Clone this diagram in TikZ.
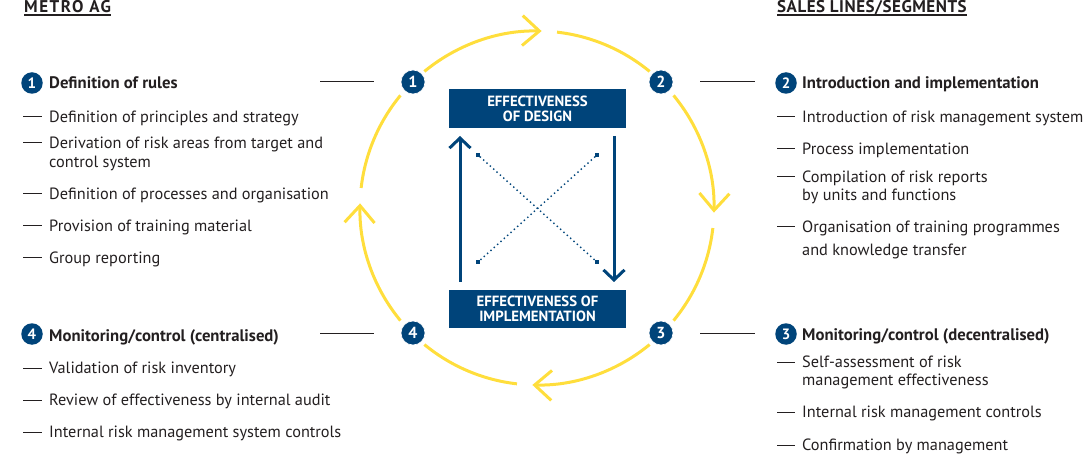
\documentclass[tikz,border=0pt]{standalone}
\usepackage{fontspec}
\setmainfont{PT Sans}
\usetikzlibrary{arrows.meta,calc}
\definecolor{navy}{RGB}{0,68,122}
\definecolor{ylw}{RGB}{255,222,60}
\definecolor{txt}{RGB}{35,31,32}
\tikzset{
  ring/.style={draw=ylw,line width=3pt},
  ringtip/.style={ring,-{Straight Barb[length=17pt,width=30pt]}},
  badge/.style={circle,fill=navy,draw=white,line width=0.6pt,inner sep=0pt,minimum size=24pt,text=white,font=\fontsize{16}{16}\selectfont\bfseries},
  sbadge/.style={circle,fill=navy,inner sep=0pt,minimum size=21.5pt,text=white,font=\fontsize{15}{15}\selectfont\bfseries},
  body/.style={inner sep=0pt,anchor=base west,text=txt,font=\fontsize{16.3}{18}\selectfont},
  head/.style={body,font=\fontsize{16.7}{18}\selectfont\bfseries},
  title/.style={inner sep=0pt,anchor=base west,text=txt,font=\fontsize{17}{18}\selectfont\bfseries},
  effbox/.style={fill=navy,text=white,minimum width=177pt,align=center,inner sep=0pt,font=\fontsize{14.8}{15}\selectfont\bfseries},
  navyarrow/.style={draw=navy,line width=3pt,-{Straight Barb[length=10pt,width=21pt]}},
  dotln/.style={draw=navy,line width=1.4pt,dash pattern=on 1.4pt off 3.1pt},
  endsq/.style={fill=navy,inner sep=0pt,minimum size=3.2pt},
  hline/.style={draw=txt,line width=1pt},
  dashln/.style={draw=txt,line width=1pt},
  uline/.style={draw=txt,line width=1.3pt},
}
\begin{document}
\begin{tikzpicture}[x=1pt,y=-1pt]
\useasboundingbox (0,0) rectangle (1092,454);
% ring (angles negated because y points down)
\coordinate (C) at (537,208);
\def\R{177}
\foreach \q in {90,0,-90,-180}{
  \draw[ringtip] ($(C)+({-(\q+39.5)}:\R)$) arc[start angle={-(\q+39.5)}, end angle={-(\q-1.5)}, radius=\R];
  \draw[ring] ($(C)+({-(\q-6.5)}:\R)$) arc[start angle={-(\q-6.5)}, end angle={-(\q-39.5)}, radius=\R];
}
% badges on ring
\node[badge] (b1) at (413,82) {1};
\node[badge] (b2) at (661,82) {2};
\node[badge] (b3) at (661,333) {3};
\node[badge] (b4) at (413,333) {4};
% central boxes
\node[effbox,minimum height=39pt] (design) at (537.5,108.5) {EFFECTIVENESS\\OF DESIGN};
\node[effbox,minimum height=38pt] (impl) at (537.5,309) {EFFECTIVENESS OF\\IMPLEMENTATION};
\coordinate (ua) at (460,282); \coordinate (ub) at (460,136);
\coordinate (da) at (614,136); \coordinate (db) at (614,282);
\draw[navyarrow] (ua) -- (ub);
\draw[navyarrow] (da) -- (db);
% dotted cross
\node[endsq] (d1) at (478,155) {};
\node[endsq] (d2) at (597,155) {};
\node[endsq] (d3) at (478,262) {};
\node[endsq] (d4) at (597,262) {};
\draw[dotln] (d1) -- (d4);
\draw[dotln] (d2) -- (d3);
% titles
\node[title] (tl) at (24,12.5) {\addfontfeature{LetterSpace=9}METRO AG};
\draw[uline] ([yshift=-2.5pt]tl.base west) -- ([yshift=-2.5pt]tl.base east);
\node[title] (tr) at (777,12.5) {\addfontfeature{LetterSpace=3}SALES LINES/SEGMENTS};
\draw[uline] ([yshift=-2.5pt]tr.base west) -- ([yshift=-2.5pt]tr.base east);
% left headings
\node[sbadge] (s1) at (32,83) {1};
\node[head] (h1) at (49,89) {Definition of rules};
\node[sbadge] (s4) at (32,334) {4};
\node[head] (h4) at (49,341) {Monitoring/control (centralised)};
% right headings
\node[sbadge] (s2) at (786,83) {2};
\node[head] (h2) at (802,89) {Introduction and implementation};
\node[sbadge] (s3) at (786,334) {3};
\node[head] (h3) at (802,340) {Monitoring/control (decentralised)};
% connector lines
\coordinate (c1a) at (320,82); \coordinate (c1b) at (374,82);
\coordinate (c4a) at (320,333); \coordinate (c4b) at (374,333);
\coordinate (c2a) at (700,82); \coordinate (c2b) at (755,82);
\coordinate (c3a) at (700,333); \coordinate (c3b) at (755,333);
\draw[hline] (c1a) -- (c1b);
\draw[hline] (c4a) -- (c4b);
\draw[hline] (c2a) -- (c2b);
\draw[hline] (c3a) -- (c3b);
% left items
\node[body] (l1) at (49,122.5) {Definition of principles and strategy};
\node[body] (l2) at (49,148.5) {Derivation of risk areas from target and};
\node[body] (l2b) at (49,167.5) {control system};
\node[body] (l3) at (49,199.5) {Definition of processes and organisation};
\node[body] (l4) at (49,231.5) {Provision of training material};
\node[body] (l5) at (49,263.5) {Group reporting};
\node[body] (l6) at (49,373.5) {Validation of risk inventory};
\node[body] (l7) at (49,405.5) {Review of effectiveness by internal audit};
\node[body] (l8) at (49,437.5) {Internal risk management system controls};
% right items
\node[body] (r1) at (802,122.5) {Introduction of risk management system};
\node[body] (r2) at (802,154.5) {Process implementation};
\node[body] (r3) at (802,182.5) {Compilation of risk reports};
\node[body] (r3b) at (802,200.5) {by units and functions};
\node[body] (r4) at (802,232.5) {Organisation of training programmes};
\node[body] (r4b) at (802,255.5) {and knowledge transfer};
\node[body] (r5) at (802,367.5) {Self-assessment of risk};
\node[body] (r5b) at (802,385.5) {management effectiveness};
\node[body] (r6) at (802,417.5) {Internal risk management controls};
\node[body] (r7) at (802,450.5) {Confirmation by management};
% dashes
\foreach \n in {l1,l2,l3,l4,l5,l6,l7,l8}{
  \draw[dashln] ([xshift=-26pt,yshift=5.5pt]\n.base west) -- ++(19pt,0);
}
\foreach \n in {r1,r2,r3,r4,r5,r6,r7}{
  \draw[dashln] ([xshift=-25pt,yshift=5.5pt]\n.base west) -- ++(18pt,0);
}
\end{tikzpicture}
\end{document}
